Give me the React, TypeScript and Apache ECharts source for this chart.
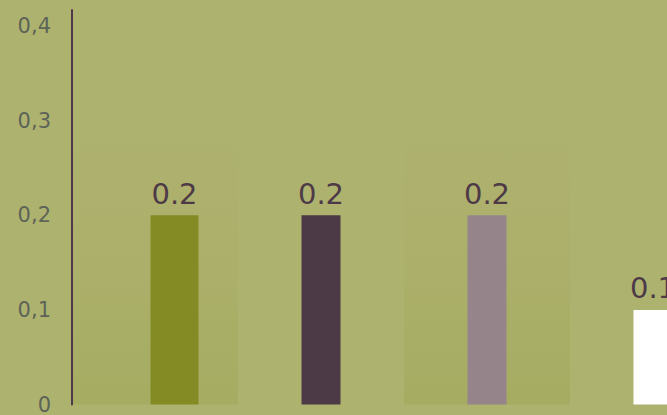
import React, { useEffect, useRef } from "react";
import * as echarts from "echarts";

const categories = ["1", "2", "3", "4"];
const values = [0.2, 0.2, 0.2, 0.1];
const barColors = ["#858b24", "#4d3a47", "#958489", "#ffffff"];
const yTicks = { min: 0, max: 0.417, interval: 0.1 };

export default function App() {
  const ref = useRef<HTMLDivElement>(null);
  useEffect(() => {
    if (!ref.current) return;
    const chart = echarts.init(ref.current, undefined, { renderer: "svg" });
    const band = new echarts.graphic.LinearGradient(0, 0, 0, 1, [
      { offset: 0, color: "rgba(170,170,100,0)" },
      { offset: 0.5, color: "rgba(172,165,95,0.18)" },
      { offset: 1, color: "rgba(150,158,70,0.33)" },
    ]);
    const labelStyle = {
      show: true,
      position: "top",
      distance: 7,
      color: "#4e3a47",
      fontSize: 29,
      fontFamily: "DejaVu Sans",
    };
    chart.setOption({
      animation: false,
      backgroundColor: "#adb36f",
      grid: { left: 72, top: 10, bottom: 7, width: 664 },
      xAxis: [
        {
          type: "category",
          data: categories,
          axisLine: { show: false },
          axisTick: { show: false },
          axisLabel: { show: false },
          splitArea: { show: true, areaStyle: { color: [band, "rgba(0,0,0,0)"] } },
        },
        {
          type: "category",
          data: categories,
          show: false,
          gridIndex: 0,
        },
      ],
      yAxis: {
        type: "value",
        min: yTicks.min,
        max: yTicks.max,
        interval: yTicks.interval,
        axisLine: { show: true, lineStyle: { color: "#4e3a47", width: 2 } },
        axisTick: { show: false },
        splitLine: { show: false },
        axisLabel: {
          showMaxLabel: false,
          color: "#5e6358",
          fontSize: 21,
          margin: 21,
          fontFamily: "DejaVu Sans",
          formatter: (v: number) => String(Math.round(v * 10) / 10).replace(".", ","),
        },
      },
      series: [
        {
          type: "bar",
          xAxisIndex: 1,
          data: categories.map(() => null),
          barWidth: 39,
          barGap: "0%",
          silent: true,
        },
        {
          type: "bar",
          xAxisIndex: 1,
          data: values.map((v, i) => (i === 0 ? { value: v, itemStyle: { color: barColors[i] } } : null)),
          barWidth: 48,
          label: labelStyle,
        },
        {
          type: "bar",
          xAxisIndex: 0,
          data: values.map((v, i) => (i === 0 ? null : { value: v, itemStyle: { color: barColors[i] } })),
          barWidth: 39,
          label: labelStyle,
        },
      ],
    });
    return () => chart.dispose();
  }, []);
  return (
    <div
      style={{
        position: "fixed",
        left: 0,
        top: 0,
        width: 667,
        height: 415,
        overflow: "hidden",
        background: "#adb36f",
      }}
    >
      <div ref={ref} style={{ width: 760, height: 415 }} />
    </div>
  );
}
